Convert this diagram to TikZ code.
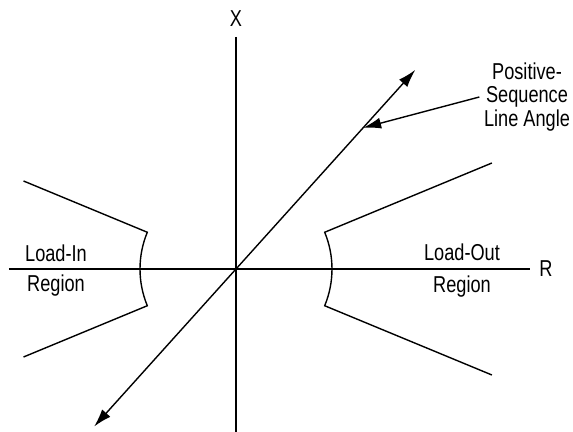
\documentclass[tikz,border=0pt]{standalone}
\usepackage{fontspec}
\setmainfont{Liberation Sans}[FakeStretch=0.79]
\usetikzlibrary{arrows.meta}

\begin{document}
\begin{tikzpicture}[x=0.5pt, y=0.5pt, line width=0.7pt,
    tip/.style={-{Latex[length=9pt,width=5.5pt]}},
    lbl/.style={font=\fontsize{11.5}{11.75}\selectfont, inner sep=0pt}]
                \useasboundingbox (-236,-163) rectangle (337,269);
                
                % Axis end points
                \coordinate (O) at (0,0);
                \coordinate (Rl) at (-227,0);
                \coordinate (Rr) at (294,0);
                \coordinate (Xt) at (0,232);
                \coordinate (Xb) at (0,-163);
                
                % Draw the axes
                \draw (Rl) -- (Rr);
                \draw (Xt) -- (Xb);
                \node[lbl, anchor=base] (xlab) at (0,242) {X};
                \node[lbl, anchor=base] (rlab) at (310,-8) {R};
                
                % Line angle, both ways from the origin
                \coordinate (up) at (48:268);
                \coordinate (down) at (228:212);
                \draw[tip] (O) -- (up);
                \draw[tip] (O) -- (down);
                
                % Load-in blinder
                \draw (202.5:230) -- (202.5:96) arc[start angle=202.5, end angle=157.5, radius=96] -- (157.5:230);
                
                % Load-out blinder
                \draw (22.5:277) -- (22.5:96) arc[start angle=22.5, end angle=-22.5, radius=96] -- (-22.5:277);
                
                % Region labels
                \node[lbl, anchor=base] (inA) at (-180,7) {Load-In};
                \node[lbl, anchor=base] (inB) at (-180,-23) {Region};
                \node[lbl, anchor=base] (outA) at (226,8) {Load-Out};
                \node[lbl, anchor=base] (outB) at (226,-24) {Region};
                
                % Pointer to the line angle
                \node[lbl, align=center] (angle) at (291,172) {Positive-\\Sequence\\Line Angle};
                \coordinate (tgt) at (48:190);
                \draw[tip] ([xshift=-2pt]angle.west) -- (tgt);
            \end{tikzpicture}
\end{document}
